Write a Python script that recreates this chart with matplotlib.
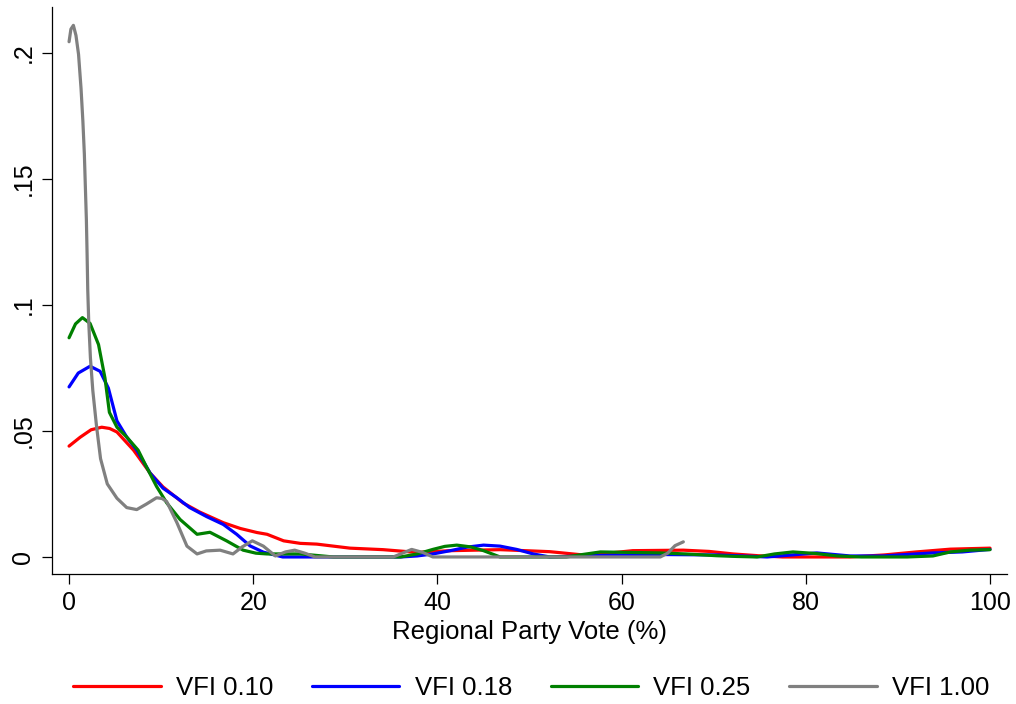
import matplotlib
matplotlib.use("Agg")
import matplotlib.pyplot as plt
import numpy as np

# density estimates, per VFI threshold
x_010 = [0, 1.2, 2.4, 3.55, 4.4, 5.2, 7.0, 8.8, 10.2, 12.4, 14.2, 16.75, 18.6, 20.4,
         21.5, 23.3, 25.1, 26.9, 30.5, 34.1, 37.8, 41.4, 46.8, 52.2, 55.8, 58.5, 61.2,
         66.7, 69.5, 72.1, 74.8, 77.5, 84.8, 88.5, 92, 95.7, 100]
y_010 = [0.044, 0.0475, 0.0505, 0.0515, 0.051, 0.0496, 0.0424, 0.0333, 0.0278, 0.0214,
         0.0178, 0.0136, 0.0113, 0.0097, 0.009, 0.0064, 0.0054, 0.0051, 0.0035, 0.0029,
         0.0018, 0.0025, 0.0029, 0.0021, 0.0008, 0.0015, 0.0025, 0.0027, 0.0022, 0.0012,
         0.0005, 0.0, 0.0, 0.0008, 0.002, 0.0031, 0.0035]

x_018 = [0, 1.0, 2.28, 3.37, 4.27, 5.2, 6.26, 7.35, 8.8, 10.2, 11.7, 13.1, 14.95, 16.75,
         18.2, 19.65, 21.1, 23.2, 36, 37.8, 39.5, 41.4, 43.2, 45, 46.8, 48.6, 50.4, 52.2,
         57.7, 63.1, 70.3, 73, 75.8, 78.5, 81.2, 84.8, 88.4, 91, 93.8, 97, 100]
y_018 = [0.0675, 0.073, 0.0757, 0.0737, 0.067, 0.054, 0.0476, 0.0424, 0.0333, 0.0273,
         0.0235, 0.0196, 0.016, 0.0129, 0.009, 0.0044, 0.0019, 0.0, 0.0, 0.0004, 0.0012,
         0.0025, 0.0039, 0.0047, 0.0043, 0.003, 0.0012, 0.0, 0.0006, 0.001, 0.0008,
         0.0004, 0.0, 0.0008, 0.0016, 0.0004, 0.0004, 0.001, 0.0016, 0.002, 0.003]

x_025 = [0, 0.7, 1.45, 2.28, 3.2, 3.9, 4.38, 5.2, 6.26, 7.5, 8.4, 9.5, 10.6, 12.05, 13.9,
         15.3, 17.1, 18.9, 20.3, 21.5, 23.3, 25.1, 26.9, 28.7, 36, 37.8, 39.5, 40.8, 42.1,
         43.6, 45, 46.8, 54, 55.8, 57.7, 61, 64.2, 67, 70.3, 72.5, 74.7, 76.6, 78.6, 81,
         83.4, 86, 88.4, 91, 93.8, 95.7, 97.8, 100]
y_025 = [0.087, 0.0925, 0.095, 0.0927, 0.0843, 0.071, 0.0574, 0.0515, 0.0476, 0.0424,
         0.0358, 0.028, 0.0215, 0.0149, 0.009, 0.0098, 0.0064, 0.0027, 0.0015, 0.0012,
         0.0012, 0.0012, 0.0006, 0.0, 0.0, 0.0012, 0.003, 0.0042, 0.0047, 0.004, 0.0025,
         0.0, 0.0, 0.001, 0.002, 0.0018, 0.0016, 0.0012, 0.0005, 0.0002, 0.0, 0.0012,
         0.002, 0.0014, 0.0004, 0.0, 0.0, 0.0, 0.0004, 0.002, 0.0027, 0.0029]

x_100 = [0, 0.2, 0.47, 0.75, 1.03, 1.3, 1.5, 1.66, 1.77, 1.88, 1.96, 2.03, 2.14, 2.32,
         2.58, 2.98, 3.42, 4.15, 5.2, 6.26, 7.35, 8.4, 9.5, 10.1, 10.6, 11.7, 12.8, 13.9,
         14.9, 16.4, 17.8, 18.8, 19.9, 21.1, 22.4, 23.5, 24.5, 25.6, 26.7, 35.2, 36.2,
         37.2, 38.4, 39.5, 64.2, 65.0, 65.8, 66.7]
y_100 = [0.2045, 0.2095, 0.211, 0.207, 0.1995, 0.186, 0.173, 0.16, 0.147, 0.134, 0.12,
         0.106, 0.093, 0.079, 0.066, 0.052, 0.039, 0.029, 0.0233, 0.0196, 0.0188, 0.021,
         0.0235, 0.0232, 0.022, 0.0137, 0.0043, 0.0012, 0.0024, 0.0027, 0.0012, 0.004,
         0.0064, 0.0043, 0.0004, 0.002, 0.0027, 0.0015, 0.0, 0.0, 0.0015, 0.003, 0.0018,
         0.0, 0.0, 0.0015, 0.0045, 0.006]

labels = ["VFI 0.10", "VFI 0.18", "VFI 0.25", "VFI 1.00"]
colors = ["#ff0000", "#0000ff", "#008000", "#808080"]

x_ticks = [0, 20, 40, 60, 80, 100]
y_ticks = [0, 0.05, 0.1, 0.15, 0.2]
y_tick_labels = ["0", ".05", ".1", ".15", ".2"]

plt.rcParams["font.family"] = ["Liberation Sans", "DejaVu Sans"]

fig = plt.figure(figsize=(10.16, 7.04), dpi=100)
ax = fig.add_axes([0.0512, 0.1847, 0.940, 0.8054])

series = [(x_010, y_010), (x_018, y_018), (x_025, y_025), (x_100, y_100)]
for (xs, ys), lab, col in zip(series, labels, colors):
    ax.plot(xs, ys, color=col, lw=2.3, label=lab, solid_capstyle="round",
            solid_joinstyle="round")

ax.set_xlim(-1.85, 101.85)
ax.set_ylim(-0.00675, 0.2183)

ax.set_xticks(x_ticks)
ax.set_yticks(y_ticks)
ax.set_yticklabels(y_tick_labels)

for side in ["top", "right"]:
    ax.spines[side].set_visible(False)
for side in ["left", "bottom"]:
    ax.spines[side].set_linewidth(0.9)

ax.tick_params(axis="both", direction="out", length=7, width=0.9, labelsize=18, pad=5)
ax.tick_params(axis="y", labelrotation=90)
for t in ax.get_yticklabels():
    t.set_va("center")

ax.set_xlabel("Regional Party Vote (%)", fontsize=18.5)
ax.xaxis.set_label_coords(0.5, -0.082)

fig.legend(loc="center", bbox_to_anchor=(0.523, 0.0227), ncol=4, frameon=False,
           fontsize=18.5, handlelength=3.4, handletextpad=0.6, columnspacing=1.5)

fig.savefig("out.png", dpi=100)
